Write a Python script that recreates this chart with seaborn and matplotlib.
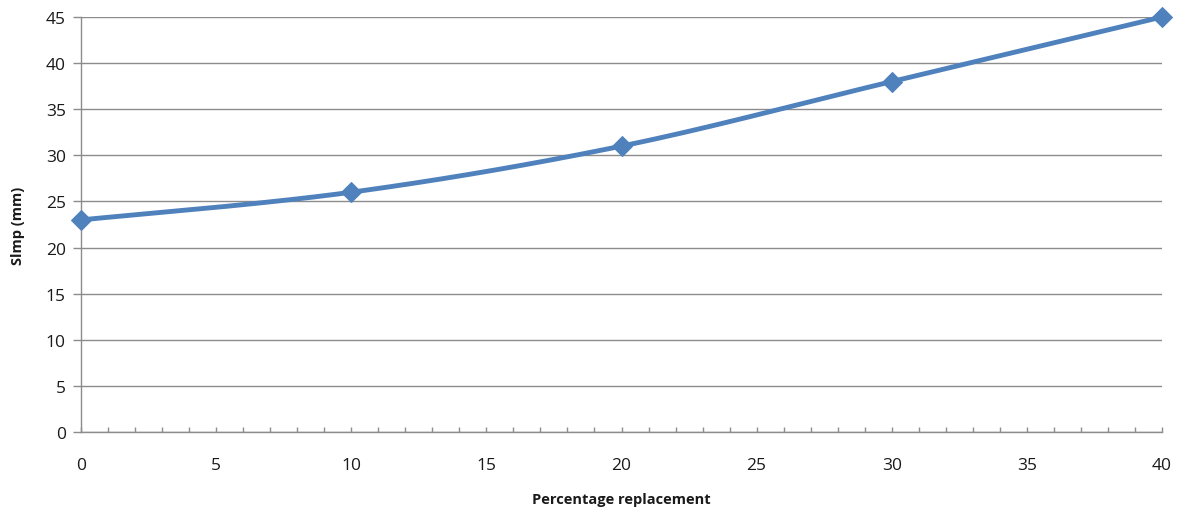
import numpy as np
import pandas as pd
import matplotlib
matplotlib.use("Agg")
import matplotlib.pyplot as plt
import seaborn as sns
from matplotlib.ticker import MultipleLocator

# Data
replacement = [0, 10, 20, 30, 40]
slump = [23, 26, 31, 38, 45]

x_label = "Percentage replacement"
y_label = "Slmp (mm)"

sns.set_theme(style="white")
plt.rcParams['font.family'] = ['Open Sans', 'DejaVu Sans']

color = "#4F81BD"
grid_color = "#8C8C8C"
text_color = "#1a1a1a"

fig = plt.figure(figsize=(11.81, 5.10), dpi=100)
ax = fig.add_axes([0.0686, 0.151, 0.9153, 0.8137])

# Smoothed line rendering (Catmull-Rom through data points, like Excel's smoothed line)
def smooth(xs, ys, n=40):
    P = np.column_stack([xs, ys]).astype(float)
    P = np.vstack([P[0], P, P[-1]])
    out = []
    for i in range(1, len(P) - 2):
        p0, p1, p2, p3 = P[i - 1], P[i], P[i + 1], P[i + 2]
        c1 = p1 + (p2 - p0) / 6.0
        c2 = p2 - (p3 - p1) / 6.0
        t = np.linspace(0, 1, n)[:, None]
        seg = ((1 - t) ** 3) * p1 + 3 * ((1 - t) ** 2) * t * c1 + 3 * (1 - t) * t ** 2 * c2 + t ** 3 * p2
        out.append(seg if i == 1 else seg[1:])
    return np.vstack(out)

curve = smooth(replacement, slump)
df_curve = pd.DataFrame({"x": curve[:, 0], "y": curve[:, 1]})
df = pd.DataFrame({"x": replacement, "y": slump})

sns.lineplot(data=df_curve, x="x", y="y", ax=ax, color=color, linewidth=3.5,
             sort=False, estimator=None, zorder=3, clip_on=False)
sns.lineplot(data=df, x="x", y="y", ax=ax, color=color, linewidth=0,
             marker="D", markersize=10, markeredgecolor=color, zorder=4,
             estimator=None, clip_on=False)

ax.set_xlim(0, 40)
ax.set_ylim(0, 45)
ax.xaxis.set_major_locator(MultipleLocator(5))
ax.xaxis.set_minor_locator(MultipleLocator(1))
ax.yaxis.set_major_locator(MultipleLocator(5))

ax.grid(axis="y", color=grid_color, linewidth=1.0)
ax.grid(axis="x", visible=False)
ax.set_axisbelow(True)

for s in ["top", "right"]:
    ax.spines[s].set_visible(False)
for s in ["left", "bottom"]:
    ax.spines[s].set_color(grid_color)
    ax.spines[s].set_linewidth(1.0)

ax.tick_params(axis="y", which="major", direction="out", length=6, width=1,
               color=grid_color, labelsize=12.5, labelcolor=text_color, pad=5, left=True)
ax.tick_params(axis="x", which="both", direction="in", length=3.5, width=1,
               color=grid_color, bottom=True)
ax.tick_params(axis="x", which="major", labelsize=12.5, labelcolor=text_color, pad=18)

ax.set_xlabel(x_label, fontsize=10.5, fontweight="bold", color=text_color, labelpad=14)
ax.set_ylabel(y_label, fontsize=10.5, fontweight="bold", color=text_color, labelpad=15)

fig.savefig("out.png", dpi=100)
